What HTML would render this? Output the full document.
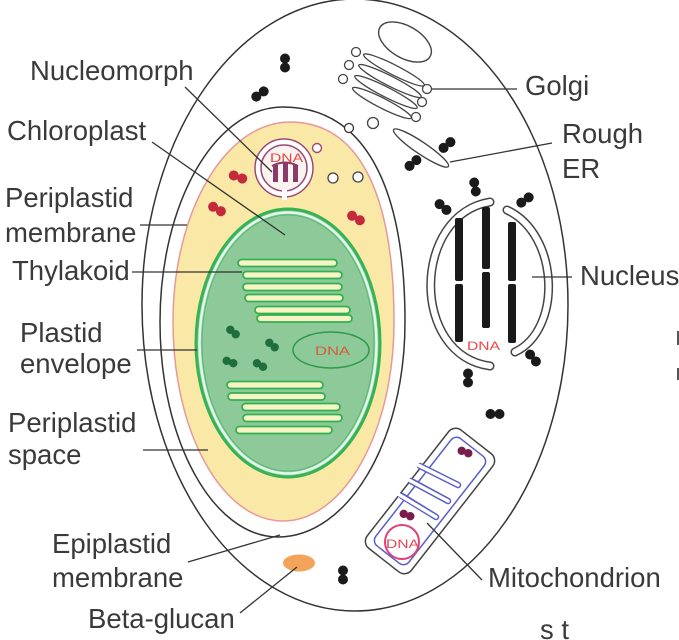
<!DOCTYPE html>
<html><head><meta charset="utf-8">
<style>
html,body{margin:0;padding:0;background:#fff;}
svg{display:block;}
text{font-family:"Liberation Sans",Arial,sans-serif;}
.lbl{font-size:27.5px;fill:#3a3a3a;}
.ln{stroke:#333;stroke-width:1.3;fill:none;}
</style></head><body>
<svg width="679" height="640" viewBox="0 0 679 640" xmlns="http://www.w3.org/2000/svg">
<rect width="679" height="640" fill="#fff"/>

<!-- outer cell -->
<ellipse cx="355" cy="305" rx="213" ry="306" fill="#fff" stroke="#333" stroke-width="1.5"/>

<!-- epiplastid membrane -->
<path d="M283,107 C362,107 405,182 405,322 C405,441 348,537 278,537 C213,537 160,441 160,322 C160,203 215,107 283,107 Z" fill="#fff" stroke="#333" stroke-width="1.5"/>
<!-- top bleb -->
<circle cx="349" cy="128" r="4.5" fill="#fff" stroke="#333" stroke-width="1.3"/>

<!-- periplastid space (yellow) -->
<path d="M290,122 C358,122 394,192 394,322 C394,432 344,521 283,521 C222,521 173,432 173,322 C173,212 225,122 290,122 Z" fill="#fae8a6" stroke="#e6999a" stroke-width="1.5"/>

<!-- vesicles in periplastid -->
<circle cx="333" cy="178" r="5" fill="#fff" stroke="#444" stroke-width="1.3"/>
<circle cx="358" cy="177" r="5" fill="#fff" stroke="#444" stroke-width="1.3"/>

<!-- red blobs -->
<g fill="#c42a3c">
<g transform="translate(238,177) rotate(20)"><circle cx="-4.5" r="5"/><circle cx="4.5" r="5"/></g>
<g transform="translate(217,209) rotate(30)"><circle cx="-4.5" r="5"/><circle cx="4.5" r="5"/></g>
<g transform="translate(356,218) rotate(30)"><circle cx="-4.5" r="5"/><circle cx="4.5" r="5"/></g>
</g>

<!-- nucleomorph -->
<circle cx="317" cy="148" r="4.5" fill="#fff" stroke="#9a4a7a" stroke-width="1.4"/>
<circle cx="284" cy="168" r="29" fill="#fff" stroke="#9a4a7a" stroke-width="1.5"/>
<circle cx="284" cy="168" r="23" fill="#fbf3ee" stroke="#9a4a7a" stroke-width="1.5"/>
<rect x="282" y="189" width="5" height="11" fill="#fff"/>
<path d="M272,166 Q285,159 298,166" fill="none" stroke="#8a3a6a" stroke-width="2"/>
<rect x="273" y="165" width="5" height="17" fill="#8a3a6a"/>
<rect x="283" y="163" width="5" height="19" fill="#8a3a6a"/>
<rect x="293" y="165" width="5" height="17" fill="#8a3a6a"/>
<text x="270" y="162" font-size="12" fill="#e04848" textLength="33" lengthAdjust="spacingAndGlyphs">DNA</text>

<!-- chloroplast -->
<ellipse cx="288" cy="343" rx="92" ry="134" fill="#8ec99a" stroke="#36b352" stroke-width="3"/>
<ellipse cx="288" cy="343" rx="88.5" ry="130.5" fill="none" stroke="#e2f7f0" stroke-width="2.5"/>
<ellipse cx="288" cy="343" rx="86" ry="128" fill="none" stroke="#5ab96e" stroke-width="1"/>

<!-- thylakoids -->
<g fill="#f7f5c6" stroke="#33b04f" stroke-width="1.8">
<rect x="238" y="259.5" width="99" height="7" rx="3.5"/>
<rect x="243" y="271.5" width="99" height="7" rx="3.5"/>
<rect x="243" y="283.5" width="99" height="7" rx="3.5"/>
<rect x="245" y="294.5" width="98" height="7" rx="3.5"/>
<rect x="255" y="306.5" width="95" height="7" rx="3.5"/>
<rect x="257" y="315" width="95" height="7" rx="3.5"/>
<rect x="227" y="381.5" width="96" height="7" rx="3.5"/>
<rect x="228" y="393" width="97" height="7" rx="3.5"/>
<rect x="242" y="403.5" width="98" height="7" rx="3.5"/>
<rect x="243" y="414.5" width="99" height="7" rx="3.5"/>
<rect x="236" y="426.5" width="96" height="7" rx="3.5"/>
</g>

<!-- plastid DNA -->
<ellipse cx="331" cy="350" rx="38" ry="18" fill="#8ec99a" stroke="#2e9a4a" stroke-width="1.5"/>
<text x="315" y="355" font-size="12" fill="#d85a3a" textLength="35" lengthAdjust="spacingAndGlyphs">DNA</text>

<!-- green blobs -->
<g fill="#1f6e3b">
<g transform="translate(233,332) rotate(40)"><circle cx="-3.5" r="4.2"/><circle cx="3.5" r="4.2"/></g>
<g transform="translate(272,345) rotate(40)"><circle cx="-3.5" r="4.2"/><circle cx="3.5" r="4.2"/></g>
<g transform="translate(230,362) rotate(20)"><circle cx="-3.5" r="4.2"/><circle cx="3.5" r="4.2"/></g>
<g transform="translate(260,365) rotate(30)"><circle cx="-3.5" r="4.2"/><circle cx="3.5" r="4.2"/></g>
</g>

<!-- vacuole -->
<ellipse cx="405" cy="42" rx="29" ry="16" transform="rotate(30 405 42)" fill="#fff" stroke="#444" stroke-width="1.4"/>

<!-- golgi -->
<g fill="#fff" stroke="#444" stroke-width="1.3">
<ellipse cx="394" cy="70" rx="34" ry="5" transform="rotate(27 394 70)"/>
<ellipse cx="390" cy="81" rx="35" ry="5" transform="rotate(27 390 81)"/>
<ellipse cx="386" cy="92" rx="35" ry="5" transform="rotate(27 386 92)"/>
<ellipse cx="382" cy="103" rx="33" ry="5" transform="rotate(27 382 103)"/>
<circle cx="356" cy="52" r="4.5"/>
<circle cx="349" cy="65" r="4.5"/>
<circle cx="343" cy="79" r="4.5"/>
<circle cx="427" cy="89" r="4.5"/>
<circle cx="422" cy="102" r="4.5"/>
<circle cx="416" cy="117" r="4.5"/>
<circle cx="373" cy="123" r="5.5"/>
</g>

<!-- rough ER -->
<ellipse cx="421" cy="148" rx="33" ry="6" transform="rotate(34 421 148)" fill="#fff" stroke="#444" stroke-width="1.4"/>

<!-- nucleus envelope -->
<path d="M490,202 C412,215 410,355 490,366" fill="none" stroke="#444" stroke-width="9" stroke-linecap="round"/>
<path d="M490,202 C412,215 410,355 490,366" fill="none" stroke="#fff" stroke-width="6" stroke-linecap="round"/>
<path d="M507,210 C560,235 562,330 515,352" fill="none" stroke="#444" stroke-width="9" stroke-linecap="round"/>
<path d="M507,210 C560,235 562,330 515,352" fill="none" stroke="#fff" stroke-width="6" stroke-linecap="round"/>

<!-- chromosomes -->
<g fill="#1a1a1a">
<rect x="455" y="218" width="8" height="63" rx="2"/>
<rect x="455" y="284" width="8" height="58" rx="2"/>
<rect x="482" y="207" width="8" height="62" rx="2"/>
<rect x="482" y="272" width="8" height="56" rx="2"/>
<rect x="508" y="222" width="8" height="59" rx="2"/>
<rect x="508" y="284" width="8" height="59" rx="2"/>
</g>
<text x="467" y="350" font-size="12" fill="#e84848" textLength="33" lengthAdjust="spacingAndGlyphs">DNA</text>

<!-- black ribosomes -->
<g fill="#1a1a1a">
<g transform="translate(285,63) rotate(90)"><circle cx="-4.5" r="5"/><circle cx="4.5" r="5"/></g>
<g transform="translate(260,94) rotate(-35)"><circle cx="-4.5" r="5"/><circle cx="4.5" r="5"/></g>
<g transform="translate(447,145) rotate(-40)"><circle cx="-4.5" r="5"/><circle cx="4.5" r="5"/></g>
<g transform="translate(413,163) rotate(-40)"><circle cx="-4.5" r="5"/><circle cx="4.5" r="5"/></g>
<g transform="translate(443,207) rotate(40)"><circle cx="-4.5" r="5"/><circle cx="4.5" r="5"/></g>
<g transform="translate(475,187) rotate(80)"><circle cx="-4.5" r="5"/><circle cx="4.5" r="5"/></g>
<g transform="translate(525,200) rotate(-35)"><circle cx="-4.5" r="5"/><circle cx="4.5" r="5"/></g>
<g transform="translate(468,378) rotate(90)"><circle cx="-4.5" r="5"/><circle cx="4.5" r="5"/></g>
<g transform="translate(533,358) rotate(50)"><circle cx="-4.5" r="5"/><circle cx="4.5" r="5"/></g>
<g transform="translate(495,414) rotate(0)"><circle cx="-4.5" r="5"/><circle cx="4.5" r="5"/></g>
<g transform="translate(343,575) rotate(90)"><circle cx="-4.5" r="5"/><circle cx="4.5" r="5"/></g>
</g>

<!-- mitochondrion -->
<g transform="translate(430,501) rotate(-52)">
<rect x="-75" y="-28" width="150" height="56" rx="9" fill="#fff" stroke="#444" stroke-width="1.5"/>
<rect x="-68" y="-21" width="136" height="42" rx="7" fill="#fff" stroke="#5a5fc8" stroke-width="1.5"/>
</g>
<g stroke-linecap="round" fill="none">
<path d="M420,466 L458,485 M411,481 L448,501 M402,496 L436,517" stroke="#5a5fc8" stroke-width="6.5"/>
<path d="M416,464 L458,485 M407,479 L448,501 M398,494 L436,517" stroke="#fff" stroke-width="3.5"/>
</g>
<circle cx="402" cy="542" r="17" fill="#fff" stroke="#e0407a" stroke-width="2"/>
<text x="386" y="548" font-size="12" fill="#e04858" textLength="33" lengthAdjust="spacingAndGlyphs">DNA</text>
<g fill="#7a1d4a">
<g transform="translate(465,452) rotate(20)"><circle cx="-3.5" r="4.2"/><circle cx="3.5" r="4.2"/></g>
<g transform="translate(407,515) rotate(20)"><circle cx="-3.5" r="4.2"/><circle cx="3.5" r="4.2"/></g>
</g>

<!-- beta-glucan -->
<ellipse cx="299" cy="563" rx="16" ry="8.5" fill="#f2a55a"/>

<!-- leader lines -->
<g class="ln">
<line x1="185" y1="87" x2="272" y2="172"/>
<line x1="152" y1="142" x2="285" y2="235"/>
<line x1="140" y1="225" x2="187" y2="225"/>
<line x1="132" y1="272" x2="242" y2="272"/>
<line x1="137" y1="350" x2="197" y2="350"/>
<line x1="143" y1="450" x2="208" y2="450"/>
<line x1="188" y1="562" x2="280" y2="535"/>
<line x1="240" y1="613" x2="297" y2="567"/>
<line x1="432" y1="89" x2="517" y2="89"/>
<line x1="450" y1="162" x2="552" y2="143"/>
<line x1="532" y1="277" x2="572" y2="277"/>
<line x1="427" y1="523" x2="482" y2="580"/>
</g>

<!-- labels -->
<text class="lbl" x="30" y="80">Nucleomorph</text>
<text class="lbl" x="7" y="140">Chloroplast</text>
<text class="lbl" x="5" y="207">Periplastid</text>
<text class="lbl" x="5" y="242">membrane</text>
<text class="lbl" x="12" y="280">Thylakoid</text>
<text class="lbl" x="20" y="342">Plastid</text>
<text class="lbl" x="20" y="373">envelope</text>
<text class="lbl" x="8" y="432">Periplastid</text>
<text class="lbl" x="8" y="464">space</text>
<text class="lbl" x="52" y="553">Epiplastid</text>
<text class="lbl" x="52" y="587">membrane</text>
<text class="lbl" x="88" y="628">Beta-glucan</text>
<text class="lbl" x="525" y="95">Golgi</text>
<text class="lbl" x="562" y="143">Rough</text>
<text class="lbl" x="562" y="178">ER</text>
<text class="lbl" x="580" y="285">Nucleus</text>
<text class="lbl" x="488" y="587">Mitochondrion</text>
<text class="lbl" x="540" y="639">s t</text>

<!-- partial glyphs at right edge -->
<rect x="677" y="331" width="2" height="14" fill="#555"/>
<rect x="677" y="368" width="2" height="12" fill="#555"/>
</svg>
</body></html>
